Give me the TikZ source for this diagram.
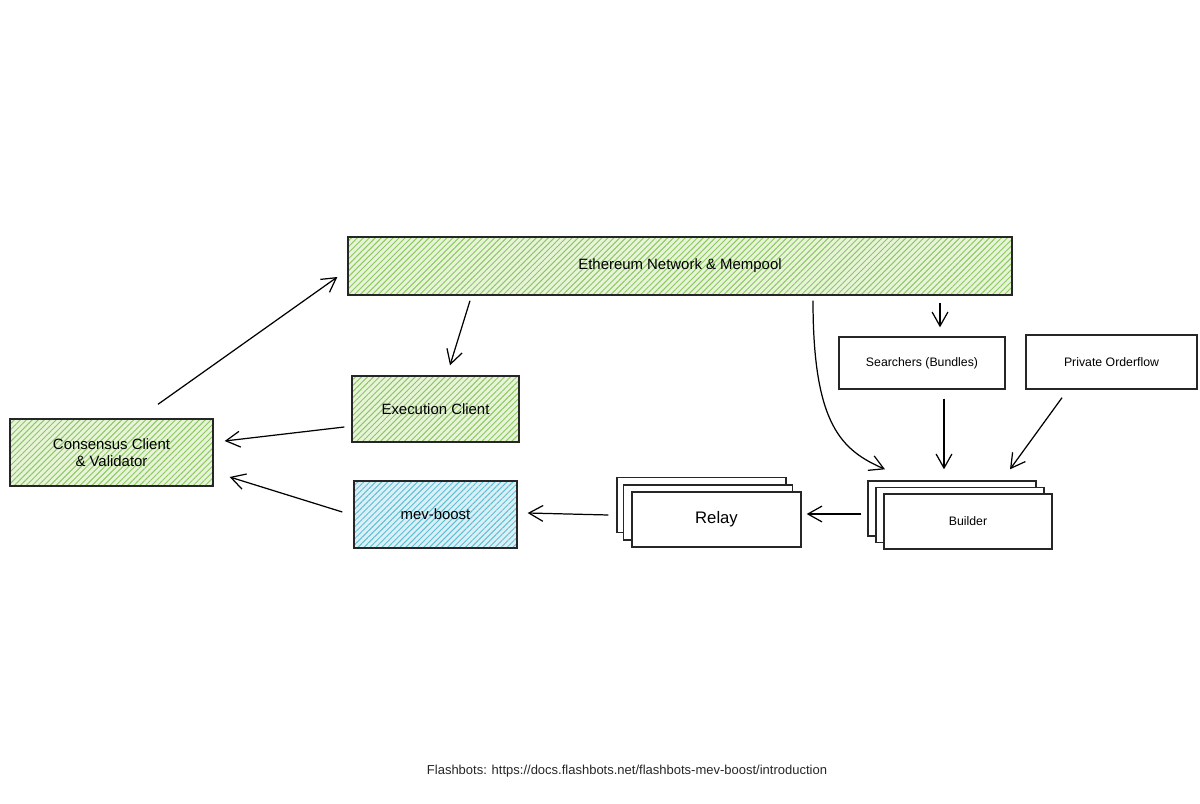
\documentclass[tikz,border=0pt]{standalone}
\usepackage{fontspec}
\setmainfont{Liberation Sans}
\usetikzlibrary{arrows.meta,patterns.meta}
\definecolor{hatchgreen}{RGB}{140,200,95}
\definecolor{fillgreen}{RGB}{232,244,218}
\definecolor{hatchblue}{RGB}{95,190,212}
\definecolor{fillblue}{RGB}{218,240,246}
\tikzset{
    boxbase/.style={draw=black!85,line width=0.8pt,inner sep=0pt,align=center,font=\fontsize{8.5}{10}\selectfont},
    greenbox/.style={boxbase,preaction={fill=fillgreen},preaction={pattern={Lines[angle=45,distance=2.4pt,line width=0.55pt]},pattern color=hatchgreen}},
    bluebox/.style={boxbase,preaction={fill=fillblue},preaction={pattern={Lines[angle=45,distance=2.4pt,line width=0.55pt]},pattern color=hatchblue}},
    plainbox/.style={boxbase,fill=white},
    smalltext/.style={font=\fontsize{7}{8.5}\selectfont},
    flowarrow/.style={black,line width=0.7pt,-{Straight Barb[length=8pt,width=9pt]}},
    caption/.style={font=\fontsize{7.4}{9}\selectfont,text=black!85}
}
\begin{document}
\begin{tikzpicture}[x=0.02cm,y=-0.02cm]
    \useasboundingbox (0,0) rectangle (1200,804);

    % client side
    \node[greenbox,minimum width=13.28cm,minimum height=1.16cm] (eth) at (680,266) {Ethereum Network \& Mempool};
    \node[greenbox,minimum width=3.34cm,minimum height=1.32cm] (exec) at (435.5,409) {Execution Client};
    \node[greenbox,minimum width=4.06cm,minimum height=1.34cm] (cons) at (111.5,452.5) {Consensus Client\\\& Validator};
    \node[bluebox,minimum width=3.26cm,minimum height=1.34cm] (mev) at (435.5,514.5) {mev-boost};

    % relays (stacked)
    \node[plainbox,minimum width=3.38cm,minimum height=1.1cm] (relayC) at (701.5,505) {};
    \node[plainbox,minimum width=3.38cm,minimum height=1.1cm] (relayB) at (708,512.5) {};
    \node[plainbox,minimum width=3.38cm,minimum height=1.1cm,font=\fontsize{9.5}{11}\selectfont] (relay) at (716.5,519.5) {Relay};

    % builders (stacked)
    \node[plainbox,minimum width=3.36cm,minimum height=1.1cm] (builderC) at (952,508.5) {};
    \node[plainbox,minimum width=3.36cm,minimum height=1.1cm] (builderB) at (960,515) {};
    \node[plainbox,smalltext,minimum width=3.36cm,minimum height=1.1cm] (builder) at (968,521.5) {Builder};

    % order flow sources
    \node[plainbox,smalltext,minimum width=3.32cm,minimum height=1.04cm] (search) at (922,363) {Searchers (Bundles)};
    \node[plainbox,smalltext,minimum width=3.42cm,minimum height=1.08cm] (private) at (1111.5,362) {Private Orderflow};

    % arrows
    \draw[flowarrow] ([shift={(46.5,-14)}]cons.north) -- ([shift={(-10,11)}]eth.west);
    \draw[flowarrow] ([shift={(-210,5)}]eth.south) -- ([shift={(14.5,-10)}]exec.north);
    \draw[flowarrow] ([shift={(-7,18)}]exec.west) -- ([shift={(11,-11.5)}]cons.east);
    \draw[flowarrow] ([shift={(-11,-2.5)}]mev.west) -- ([shift={(16,24.5)}]cons.east);
    \draw[flowarrow] ([shift={(-23,-4.5)}]relay.west) -- ([shift={(10,-1.5)}]mev.east);
    \draw[flowarrow] ([shift={(-22,-7.5)}]builder.west) -- ([shift={(5,-5.5)}]relay.east);
    \draw[flowarrow] ([shift={(260,7)}]eth.south) -- ([shift={(18,-9)}]search.north);
    \draw[flowarrow] ([shift={(22,9)}]search.south) -- ([shift={(-8,-11)}]builderC.north);
    \draw[flowarrow] ([shift={(-49.5,8)}]private.south) -- ([shift={(58,-11)}]builderC.north);
    \draw[flowarrow] ([shift={(133,5)}]eth.south) .. controls ([shift={(133,130)}]eth.south) and ([shift={(-110,-30)}]builderC.north) .. ([shift={(-67,-11)}]builderC.north);

    % source
    \node[caption] (src) at (627,771) {Flashbots: https://docs.flashbots.net/flashbots-mev-boost/introduction};
\end{tikzpicture}
\end{document}
